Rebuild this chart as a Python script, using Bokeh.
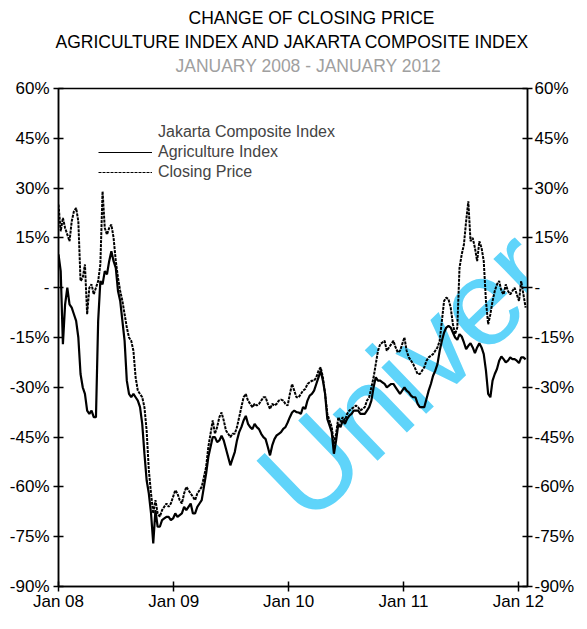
import math
import pandas as pd
from bokeh.plotting import figure
from bokeh.models import (Range1d, LinearAxis, FixedTicker, DatetimeTickFormatter,
                          Title, Legend, LegendItem, Label)
from bokeh.embed import file_html
from bokeh.resources import INLINE

# ---------------- data (weekly readings, % change) ----------------
start_date = "2008-01-01"

closing_price = [
    25, 17, 21, 18, 16, 14, 20, 23, 24, 20,
    2, 3, 7, -8, 0, 1, -2, 0, 2, 7,
    29, 18, 16, 18, 19, 15, 8, 3, -1, -4,
    -8, -12, -15, -16, -19, -27, -31, -32, -33, -36,
    -43, -55, -62, -68, -64, -68, -69, -67, -66, -65,
    -66, -65, -63, -61, -62, -64, -65, -62, -60, -61,
    -62, -63, -64, -62, -61, -60, -57, -54, -48, -44,
    -40, -44, -42, -39, -37.6, -40, -43, -44, -45, -44,
    -44, -42, -39, -36, -33, -32, -34, -35, -36, -35,
    -35.5, -35, -34, -33, -33, -35, -36.5, -35, -35.5, -35,
    -34, -33.7, -34, -35, -35.5, -32, -29, -31, -33, -33,
    -32, -31, -30.5, -29, -28.5, -28, -28, -27, -25, -24,
    -27, -32, -38, -40, -42, -47, -44, -39, -40.5, -39,
    -40, -38, -37, -36.5, -36, -35.5, -36, -37, -36.5, -36,
    -34, -33, -30, -27, -23, -19, -17, -16.5, -16, -19,
    -18, -17, -16, -18, -19.5, -19, -17, -15, -19, -21,
    -22, -23, -24.5, -26, -26, -25, -24, -22, -21, -20.5,
    -20, -19, -18, -16, -10, -4, -3, -3.5, -6, -11,
    -14, -12, 6, 10, 13, 20, 26, 14, 15, 12,
    8, 14, 12, 8, -4, -11, -8, -4, -1, 1,
    2, -1, -2, 1, -1, -2, -1, 0, -2, -4,
    2, -2, -6,
]

agriculture_index = [
    10, 5, -17, -5, 0, -5, -6, -8, -10, -15,
    -26, -30, -32, -37, -38, -37, -39, -39, -10, 2,
    1, 5, 4, 8, 11, 8, 6, -1, -4, -10,
    -16, -28, -32, -33, -32, -33, -34, -36, -41, -50,
    -58, -62, -68, -77, -67, -72, -72, -70, -69.5, -69,
    -69, -70, -69.5, -68, -69, -68.5, -68, -66, -67, -66,
    -65, -68, -68, -66, -65, -64, -60, -56, -51, -48,
    -45, -45, -46.5, -46, -44.6, -46, -48.5, -51, -53.5, -51.5,
    -49.5, -46, -43.5, -42, -40, -38.6, -41, -42, -42.6, -41,
    -42, -42.6, -44, -45, -45.6, -48, -50.5, -47.5, -45.6, -44.5,
    -44, -43.5, -42.5, -42, -40.6, -39, -37.6, -37, -37.5, -37.6,
    -38, -36, -36.5, -34, -32.5, -32, -31, -29, -27, -25,
    -28, -32, -39.5, -41.5, -43.5, -50, -46, -41, -42, -40,
    -41, -39.5, -38.5, -38, -37, -37, -37, -38, -38, -38,
    -37, -36, -34, -30, -27, -28, -28, -28.5, -29, -30,
    -29.5, -29, -29, -30, -31, -32, -31, -30, -31, -31.5,
    -32.5, -33, -33, -35, -36, -36, -36, -33.5, -31, -29,
    -26.5, -25, -23, -19, -16, -13.5, -12, -11.5, -12, -13.5,
    -15, -15.7, -14, -14.7, -16.5, -18.5, -17.5, -16.7, -18, -19.7,
    -18, -16.7, -18, -20, -25, -32, -33, -28, -26, -24.5,
    -22, -20.7, -21.5, -22.5, -22, -21, -21.5, -21.5, -22, -22.7,
    -21, -21, -21.6,
]

y_ticks = [-90, -75, -60, -45, -30, -15, 0, 15, 30, 45, 60]
y_tick_labels = ["-90%", "-75%", "-60%", "-45%", "-30%", "-15%", "-", "15%", "30%", "45%", "60%"]
x_tick_dates = ["2008-01-01", "2009-01-01", "2010-01-01", "2011-01-01", "2012-01-01"]

title_lines = ["CHANGE OF CLOSING PRICE",
               "AGRICULTURE INDEX AND JAKARTA COMPOSITE INDEX",
               "JANUARY 2008 - JANUARY 2012"]
legend_labels = ["Jakarta Composite Index", "Agriculture Index", "Closing Price"]
watermark_text = "University"

dates = pd.date_range(start_date, periods=len(closing_price), freq="7D")

FONT = "Liberation Sans"

p = figure(x_axis_type="datetime", width=577, height=613,
           min_border_left=58, min_border_top=88, min_border_right=47, min_border_bottom=5,
           x_range=Range1d(pd.Timestamp("2008-01-01"), pd.Timestamp("2012-01-30")),
           y_range=Range1d(-90, 60), title=None,
           output_backend="svg", toolbar_location=None)
p.xgrid.visible = False
p.ygrid.visible = False
p.outline_line_color = "black"
p.outline_line_width = 1.5
p.background_fill_color = "white"
p.border_fill_color = "white"

# watermark
p.add_layout(Label(x=pd.Timestamp("2009-12-01"), y=-63.2, text=watermark_text,
                   angle=math.radians(44), text_color="#5fd4fa",
                   text_font=FONT, text_font_size="122px",
                   text_baseline="alphabetic", text_align="left", level="underlay"))

# data lines
p.line(dates, agriculture_index, line_color="black", line_width=2.2)
p.line(dates, closing_price, line_color="black", line_width=2, line_dash="3 1")

# axes
ry = LinearAxis()
p.add_layout(ry, "right")
for ax in [p.yaxis[0], ry]:
    ax.ticker = FixedTicker(ticks=y_ticks)
    ax.major_label_overrides = dict(zip(y_ticks, y_tick_labels))
xa = p.xaxis[0]
xa.ticker = FixedTicker(ticks=[pd.Timestamp(d).value // 10**6 for d in x_tick_dates])
fmt = "%b %y"
xa.formatter = DatetimeTickFormatter(years=fmt, months=fmt, days=fmt, hours=fmt,
                                     hourmin=fmt, minutes=fmt, minsec=fmt, seconds=fmt,
                                     milliseconds=fmt, microseconds=fmt)
for ax in [p.yaxis[0], ry, xa]:
    ax.axis_line_width = 1.5
    ax.axis_line_color = "black"
    ax.major_tick_line_width = 1.5
    ax.major_tick_in = 5
    ax.major_tick_out = 5
    ax.minor_tick_line_color = None
    ax.major_label_text_font = FONT
    ax.major_label_text_font_size = "17px"
    ax.major_label_text_color = "black"
p.yaxis[0].major_label_standoff = 4
ry.major_label_standoff = 2
xa.major_label_standoff = 0

# titles (first added is nearest to the plot); a small blank spacer keeps the gap
p.add_layout(Title(text=" ", text_font_size="8px", standoff=1), "above")
p.add_layout(Title(text=title_lines[2], align="left", text_font=FONT, text_font_size="17.5px",
                   text_font_style="normal", text_color="#a0a0a0", offset=117, standoff=2), "above")
p.add_layout(Title(text=title_lines[1], align="left", text_font=FONT, text_font_size="17.5px",
                   text_font_style="normal", text_color="black", offset=-3, standoff=2), "above")
p.add_layout(Title(text=title_lines[0], align="left", text_font=FONT, text_font_size="17.5px",
                   text_font_style="normal", text_color="black", offset=130, standoff=2), "above")

# legend (keys drawn by placeholder renderers holding no visible point)
nan = float("nan")
r_head = p.line(x=[nan], y=[nan], line_alpha=0)
r_agri = p.line(x=[nan], y=[nan], line_color="black", line_width=1)
r_close = p.line(x=[nan], y=[nan], line_color="black", line_width=1, line_dash="3 1")
legend = Legend(items=[LegendItem(label=legend_labels[0], renderers=[r_head]),
                       LegendItem(label=legend_labels[1], renderers=[r_agri]),
                       LegendItem(label=legend_labels[2], renderers=[r_close])],
                location=(40, 404), glyph_width=54, glyph_height=20, label_height=20,
                label_standoff=6, spacing=0, padding=0, margin=0,
                border_line_color=None, background_fill_alpha=0,
                label_text_font=FONT, label_text_font_size="16px")
p.add_layout(legend)

open("out.html", "w").write(file_html(p, INLINE))
